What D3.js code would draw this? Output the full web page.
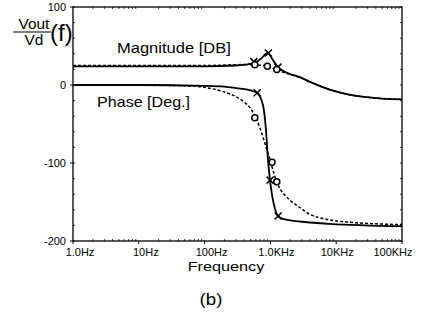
<!DOCTYPE html>
<html><head><meta charset="utf-8">
<script src="https://cdn.jsdelivr.net/npm/d3@7"></script>
<style>body{margin:0;background:#fff}svg{display:block}text{font-family:"Liberation Sans",Arial,sans-serif;fill:#000}</style>
</head><body>
<svg id="c" width="423" height="317"></svg>
<script>
// ---- data ----
const xTickValues = [1, 10, 100, 1000, 10000, 100000];
const xTickLabels = ["1.0Hz", "10Hz", "100Hz", "1.0KHz", "10KHz", "100KHz"];
const yTickValues = [100, 0, -100, -200];
const yTickLabels = ["100", "0", "-100", "-200"];

const magSolid = [[1,24],[10,24],[100,24],[300,25],[500,27],[626,30],[750,35],[850,40],[920,41],[1000,37],[1150,29],[1306,23],[1500,19],[2000,14],[2800,10],[4000,4],[8000,-6],[15000,-12],[25000,-15],[50000,-17.5],[100000,-18.5]];
const magDashed = [[1,25],[10,25],[100,25],[300,26],[500,26.5],[600,26],[900,24],[1250,19.5],[1500,17],[2000,13.5],[2800,9.5],[4000,4],[8000,-6],[15000,-12],[25000,-15],[50000,-17.5],[100000,-18.5]];
const phSolid = [[1,0],[10,0],[100,-1],[200,-2],[300,-4],[500,-7],[626,-10],[772,-26],[857,-58],[919,-96],[986,-122],[1135,-154],[1306,-168],[1600,-172],[2800,-175],[8000,-178],[100000,-181]];
const phDashed = [[1,0],[10,0],[50,-1],[100,-3],[150,-6],[200,-9],[300,-15],[400,-22],[500,-30],[600,-42],[700,-56],[800,-71],[900,-85],[1000,-97],[1100,-110],[1250,-124],[1400,-133],[1700,-142],[2000,-148],[2800,-157],[4000,-166],[5500,-170],[8000,-173],[16000,-176],[40000,-178],[100000,-179]];

const magX = [[560,30],[930,41],[1300,23]];
const magO = [[580,26],[900,24],[1250,20]];
const phX = [[630,-10],[990,-122],[1310,-168]];
const phO = [[580,-42],[1060,-99],[1250,-124]];

// ---- layout ----
const L = 73, R = 402, T = 7, B = 241;
const svg = d3.select("#c");
const x = d3.scaleLog().domain([1, 100000]).range([L, R]);
const y = d3.scaleLinear().domain([-200, 100]).range([B, T]);

// minor ticks
const minor = [];
for (let d = 1; d < 100000; d *= 10) for (let k = 2; k <= 9; k++) minor.push(d * k);
const g = svg.append("g");
g.selectAll(".mb").data(minor).join("line")
  .attr("x1", d => x(d)).attr("x2", d => x(d)).attr("y1", B).attr("y2", B - 2)
  .attr("stroke", "#000").attr("stroke-width", 0.8);
g.selectAll(".mt").data(minor).join("line")
  .attr("x1", d => x(d)).attr("x2", d => x(d)).attr("y1", T).attr("y2", T + 2)
  .attr("stroke", "#000").attr("stroke-width", 0.8);
g.selectAll(".xt").data(xTickValues).join("line")
  .attr("x1", d => x(d)).attr("x2", d => x(d)).attr("y1", B).attr("y2", B + 3)
  .attr("stroke", "#000").attr("stroke-width", 1);
const yMinor = d3.range(-200, 101, 20);
g.selectAll(".yl").data(yMinor).join("line")
  .attr("x1", L).attr("x2", L + 2).attr("y1", d => y(d)).attr("y2", d => y(d))
  .attr("stroke", "#000").attr("stroke-width", 0.8);
g.selectAll(".yr").data(yMinor).join("line")
  .attr("x1", R).attr("x2", R - 2).attr("y1", d => y(d)).attr("y2", d => y(d))
  .attr("stroke", "#000").attr("stroke-width", 0.8);
g.selectAll(".yt").data(yTickValues).join("line")
  .attr("x1", L).attr("x2", L - 3).attr("y1", d => y(d)).attr("y2", d => y(d))
  .attr("stroke", "#000").attr("stroke-width", 1);

// frame
svg.append("rect").attr("x", L).attr("y", T).attr("width", R - L).attr("height", B - T)
  .attr("fill", "none").attr("stroke", "#000").attr("stroke-width", 1.3);

// tick labels
const xLabelDx = [7, 7, 7, 6, 1, -9];
svg.selectAll(".xl").data(xTickValues).join("text")
  .attr("x", (d, i) => x(d) + xLabelDx[i]).attr("y", 256)
  .attr("text-anchor", "middle").attr("font-size", 11)
  .text((d, i) => xTickLabels[i]);
svg.selectAll(".ylab").data(yTickValues).join("text")
  .attr("x", 66).attr("y", d => y(d) + 4)
  .attr("text-anchor", "end").attr("font-size", 11)
  .text((d, i) => yTickLabels[i]);

// curves
const line = d3.line().x(d => x(d[0])).y(d => y(d[1])).curve(d3.curveMonotoneX);
const plot = svg.append("g");
plot.append("path").datum(magDashed).attr("d", line).attr("fill", "none")
  .attr("stroke", "#000").attr("stroke-width", 1.5).attr("stroke-dasharray", "3,2");
plot.append("path").datum(phDashed).attr("d", line).attr("fill", "none")
  .attr("stroke", "#000").attr("stroke-width", 1.5).attr("stroke-dasharray", "3,2");
plot.append("path").datum(magSolid).attr("d", line).attr("fill", "none")
  .attr("stroke", "#000").attr("stroke-width", 1.8);
plot.append("path").datum(phSolid).attr("d", line).attr("fill", "none")
  .attr("stroke", "#000").attr("stroke-width", 1.8);

// markers
const xs = magX.concat(phX);
const os = magO.concat(phO);
const s = 3.5;
plot.selectAll(".xm").data(xs).join("path")
  .attr("d", d => { const cx = x(d[0]), cy = y(d[1]);
    return `M${cx - s},${cy - s}L${cx + s},${cy + s}M${cx - s},${cy + s}L${cx + s},${cy - s}`; })
  .attr("stroke", "#000").attr("stroke-width", 1.6).attr("fill", "none");
plot.selectAll(".om").data(os).join("circle")
  .attr("cx", d => x(d[0])).attr("cy", d => y(d[1])).attr("r", 3)
  .attr("fill", "#fff").attr("stroke", "#000").attr("stroke-width", 1.5);

// annotation texts (scan is horizontally stretched)
function stext(tx, ty, sx, size, str, anchor) {
  svg.append("text").attr("transform", `translate(${tx},${ty}) scale(${sx},1)`)
    .attr("font-size", size).attr("text-anchor", anchor || "start").text(str);
}
stext(117, 53, 1.18, 14, "Magnitude [DB]");
stext(97, 107, 1.15, 14, "Phase [Deg.]");
stext(226, 271, 1.25, 13, "Frequency", "middle");
stext(211, 305, 1.1, 17, "(b)", "middle");

// y axis title Vout / Vd (f)
stext(34, 29, 1.1, 14, "Vout", "middle");
stext(34, 45, 1.1, 14, "Vd", "middle");
svg.append("line").attr("x1", 13).attr("x2", 51).attr("y1", 32).attr("y2", 32)
  .attr("stroke", "#000").attr("stroke-width", 1.2);
stext(50, 41, 1.0, 24, "(f)");
</script>
</body></html>
